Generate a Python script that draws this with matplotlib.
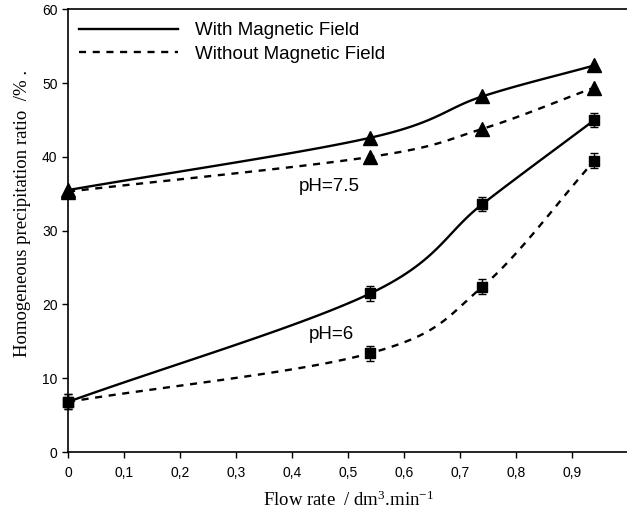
import numpy as np
import matplotlib
matplotlib.use("Agg")
import matplotlib.pyplot as plt

# ---- data ----
flow = [0.0, 0.54, 0.74, 0.94]

ph75_with = [35.5, 42.6, 48.2, 52.4]
ph75_without = [35.3, 40.0, 43.8, 49.4]

ph6_with = [6.8, 21.5, 33.6, 45.0]
ph6_without = [6.8, 13.4, 22.4, 39.5]
ph6_with_err = [1.0, 1.0, 1.0, 1.0]
ph6_without_err = [1.0, 1.0, 1.0, 1.0]

x_ticks = [0.0, 0.1, 0.2, 0.3, 0.4, 0.5, 0.6, 0.7, 0.8, 0.9]
x_tick_labels = ["0", "0,1", "0,2", "0,3", "0,4", "0,5", "0,6", "0,7", "0,8", "0,9"]
y_ticks = [0, 10, 20, 30, 40, 50, 60]


def smooth(x, y, n=30):
    # Catmull-Rom style curve through the measured points (like Excel's smoothed line)
    x = np.asarray(x, float)
    y = np.asarray(y, float)
    px = np.concatenate([[2 * x[0] - x[1]], x, [2 * x[-1] - x[-2]]])
    py = np.concatenate([[2 * y[0] - y[1]], y, [2 * y[-1] - y[-2]]])
    xs, ys = [], []
    t = np.linspace(0, 1, n)
    for i in range(1, len(px) - 2):
        for p, out in ((px, xs), (py, ys)):
            p0, p1, p2, p3 = p[i - 1], p[i], p[i + 1], p[i + 2]
            m1 = (p2 - p0) / 6.0
            m2 = (p3 - p1) / 6.0
            b = ((1 - t) ** 3 * p1 + 3 * (1 - t) ** 2 * t * (p1 + m1)
                 + 3 * (1 - t) * t ** 2 * (p2 - m2) + t ** 3 * p2)
            out.extend(b)
    return np.array(xs), np.array(ys)


plt.rcParams["font.family"] = "Liberation Sans"
plt.rcParams["mathtext.fontset"] = "custom"
plt.rcParams["mathtext.rm"] = "Liberation Serif"
plt.rcParams["mathtext.it"] = "Liberation Serif:italic"

fig = plt.figure(figsize=(6.27, 5.15), dpi=100)
ax = fig.add_axes([0.1085, 0.1223, 0.8931, 0.8596])

dash = (0, (3, 2.8))
lw = 1.7

# ---- pH 7.5 ----
sx, sy = smooth(flow, ph75_with)
ax.plot(sx, sy, color="black", lw=lw, label="With Magnetic Field")
sx, sy = smooth(flow, ph75_without)
ax.plot(sx, sy, color="black", lw=lw, linestyle=dash, label="Without Magnetic Field")
ax.plot(flow, ph75_with, "^", color="black", ms=10.5, clip_on=False)
ax.plot(flow, ph75_without, "^", color="black", ms=10.5, clip_on=False)

# ---- pH 6 ----
sx, sy = smooth(flow, ph6_with)
ax.plot(sx, sy, color="black", lw=lw)
sx, sy = smooth(flow, ph6_without)
ax.plot(sx, sy, color="black", lw=lw, linestyle=dash)
ax.errorbar(flow, ph6_with, yerr=ph6_with_err, fmt="s", color="black",
            ms=7, capsize=3, elinewidth=1, capthick=1, clip_on=False)
ax.errorbar(flow, ph6_without, yerr=ph6_without_err, fmt="s", color="black",
            ms=7, capsize=3, elinewidth=1, capthick=1, clip_on=False)

ax.text(0.466, 36.0, "pH=7.5", ha="center", va="center", fontsize=13.5)
ax.text(0.471, 15.9, "pH=6", ha="center", va="center", fontsize=13.5)

ax.set_xlim(0, 1.0)
ax.set_ylim(0, 60)
ax.set_xticks(x_ticks)
ax.set_xticklabels(x_tick_labels)
ax.set_yticks(y_ticks)
ax.tick_params(direction="out", length=4, width=1, labelsize=10)
ax.tick_params(axis="x", pad=6)
ax.spines["right"].set_visible(False)
for s in ("left", "bottom", "top"):
    ax.spines[s].set_linewidth(1.2)

ax.set_xlabel("Flow rate  / dm$^3$.min$^{-1}$", family="Liberation Serif",
              fontsize=13.5)
ax.xaxis.set_label_coords(0.5, -0.088)
ax.set_ylabel("Homogeneous precipitation ratio  /% .", family="Liberation Serif",
              fontsize=13.5)
ax.yaxis.set_label_coords(-0.066, 0.54)

ax.legend(loc="upper left", frameon=False, fontsize=13.5, handlelength=5.3,
          handletextpad=0.9, labelspacing=0.35, borderpad=0, borderaxespad=0,
          bbox_to_anchor=(0.0196, 0.971))

plt.savefig("out.png", dpi=100)
